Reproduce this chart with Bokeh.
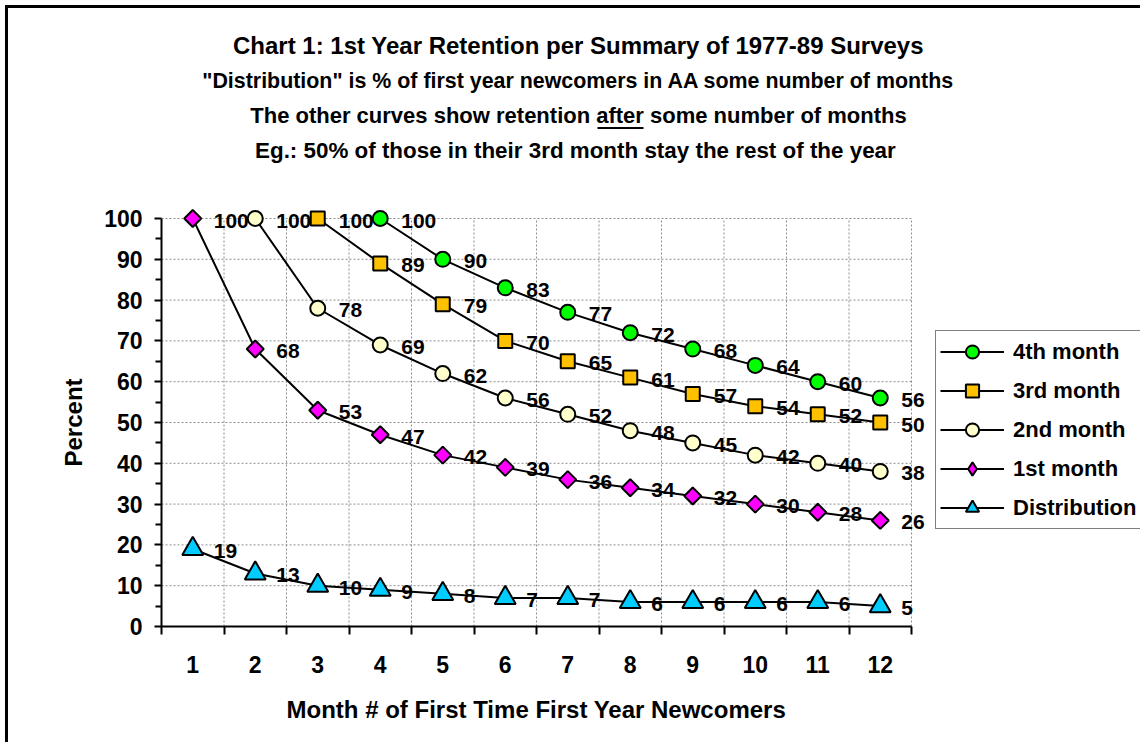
import numpy as np
from bokeh.plotting import figure
from bokeh.models import (FixedTicker, Label, Legend, LegendItem, ColumnDataSource,
                          Title, BoxAnnotation)
from bokeh.core.properties import value
from bokeh.embed import file_html
from bokeh.resources import INLINE

# ---------------- data ----------------
months = list(range(1, 13))
distribution = [19, 13, 10, 9, 8, 7, 7, 6, 6, 6, 6, 5]
month1 = [100, 68, 53, 47, 42, 39, 36, 34, 32, 30, 28, 26]
month2 = [100, 78, 69, 62, 56, 52, 48, 45, 42, 40, 38]
month3 = [100, 89, 79, 70, 65, 61, 57, 54, 52, 50]
month4 = [100, 90, 83, 77, 72, 68, 64, 60, 56]
y_ticks = list(range(0, 101, 10))
title_lines = [
    "Chart 1: 1st Year Retention per Summary of 1977-89 Surveys",
    "\"Distribution\" is % of first year newcomers in AA some number of months",
    "The other curves show retention after some number of months",
    "Eg.:  50% of those in their 3rd month stay the rest of the year",
]
x_title = "Month # of First Time First Year Newcomers"
y_title = "Percent"

FONT = "'Liberation Sans', Arial, sans-serif"

W, H = 1140, 742
# plot area in pixels: x 161..911, y 218..626
FL, FB = 161, 626
PX_PER_X = 62.5
PX_PER_Y = 4.08
x_lo = months[0] - 0.5
x_hi = months[-1] + 0.5
x_end = x_lo + (W - FL) / PX_PER_X
y_end = FB / PX_PER_Y

p = figure(width=W, height=H, output_backend="svg", toolbar_location=None,
           x_range=(x_lo, x_end), y_range=(0, y_end),
           min_border_left=FL, min_border_right=0, min_border_top=0,
           min_border_bottom=H - FB,
           background_fill_alpha=0, border_fill_alpha=0)
p.styles = {"box-shadow": "inset 5px 5px 0 0 white, inset 8px 8px 0 0 black"}
p.outline_line_color = None
p.xgrid.visible = False
p.ygrid.visible = False

# grid lines (dashed gray) limited to the plot area
GRID = dict(line_color="#8c8c8c", line_dash="2 2", line_width=1)
bx = [m + 0.5 for m in months]
p.segment(x0=bx, x1=bx, y0=[y_ticks[0]] * len(bx), y1=[y_ticks[-1]] * len(bx), **GRID)
hy = y_ticks[1:]
p.segment(x0=[x_lo] * len(hy), x1=[x_hi] * len(hy), y0=hy, y1=hy, **GRID)

# axes
p.xaxis.bounds = (x_lo, x_hi)
p.xaxis.ticker = FixedTicker(ticks=months, minor_ticks=[x_lo] + bx)
p.xaxis.major_tick_line_color = None
p.xaxis.major_tick_out = 0
p.xaxis.major_tick_in = 0
p.xaxis.minor_tick_out = 8
p.xaxis.minor_tick_in = 0
p.xaxis.minor_tick_line_color = "black"
p.xaxis.minor_tick_line_width = 2
p.xaxis.axis_line_width = 2
p.xaxis.axis_line_color = "black"
p.xaxis.major_label_standoff = 21

p.yaxis.bounds = (y_ticks[0], y_ticks[-1])
p.yaxis.ticker = FixedTicker(ticks=y_ticks, minor_ticks=[v + 5 for v in y_ticks[:-1]])
p.yaxis.major_tick_out = 7
p.yaxis.major_tick_in = 0
p.yaxis.minor_tick_out = 6
p.yaxis.minor_tick_in = 0
p.yaxis.major_tick_line_width = 2
p.yaxis.minor_tick_line_width = 2
p.yaxis.major_tick_line_color = "black"
p.yaxis.minor_tick_line_color = "black"
p.yaxis.axis_line_width = 2
p.yaxis.axis_line_color = "black"
p.yaxis.major_label_standoff = 12

for ax in (p.xaxis, p.yaxis):
    ax.major_label_text_font = FONT
    ax.major_label_text_font_style = "bold"
    ax.major_label_text_font_size = "23px"
    ax.major_label_text_color = "black"

# axis titles as side-panel titles, so they can be centred on the plot area
p.add_layout(Title(text=x_title, align="left", offset=125, standoff=36,
                   text_font=FONT, text_font_style="bold", text_font_size="24px",
                   text_color="black"), "below")
p.add_layout(Title(text=y_title, align="left", offset=160, standoff=30,
                   text_font=FONT, text_font_style="bold", text_font_size="24px",
                   text_color="black"), "left")

series = [
    ("4th month", months[3:], month4, "circle", "#00FF00", 15, 0.0),
    ("3rd month", months[2:], month3, "square", "#FFC000", 14, 0.0),
    ("2nd month", months[1:], month2, "circle", "#FFFFCC", 15, 0.0),
    ("1st month", months, month1, "square", "#FF00FF", 12, np.pi / 4),
    ("Distribution", months, distribution, "triangle", "#00CCFF", 21, 0.0),
]

items = {}
for name, xs, ys, marker, color, size, ang in reversed(series):
    src = ColumnDataSource(dict(x=xs, y=ys, lab=[str(v) for v in ys]))
    ln = p.line("x", "y", source=src, line_color="black", line_width=2)
    key = None
    if ang:
        # legend keys are drawn unrotated: a diamond marker (hidden under the
        # rotated squares) supplies the key glyph
        key = p.scatter("x", "y", source=src, marker="diamond", size=16,
                        fill_color=color, line_color="black", line_width=2)
    sc = p.scatter("x", "y", source=src, marker=marker, size=size, angle=ang,
                   fill_color=color, line_color="black", line_width=2)
    p.text("x", "y", text="lab", source=src, x_offset=21, y_offset=2,
           text_align="left", text_baseline="middle",
           text_font=value(FONT), text_font_style="bold", text_font_size="21px",
           text_color="black")
    items[name] = (ln, key if key is not None else sc)

legend = Legend(items=[LegendItem(label=s[0], renderers=list(items[s[0]])) for s in series],
                location=(774, 97), orientation="vertical",
                border_line_color="black", border_line_width=1,
                background_fill_color="white", background_fill_alpha=1,
                label_text_font=FONT, label_text_font_style="bold",
                label_text_font_size="22px", label_text_color="black",
                glyph_width=64, glyph_height=33, label_height=33,
                spacing=6, padding=4, margin=0, label_standoff=9)
p.add_layout(legend, "center")

# titles (screen units relative to the frame's bottom-left)
title_y = [FB - 45, FB - 80, FB - 115, FB - 150]
title_sz = ["24px", "21.4px", "22px", "22.4px"]
for txt, ty, sz in zip(title_lines, title_y, title_sz):
    p.add_layout(Label(x=578 - FL, y=ty, x_units="screen", y_units="screen", text=txt,
                       text_align="center", text_baseline="middle",
                       text_font=FONT, text_font_style="bold", text_font_size=sz,
                       text_color="black"))

# underline under "after" in the third title line
p.add_layout(BoxAnnotation(left=597 - FL, right=643 - FL, bottom=FB - 128.5, top=FB - 126.5,
                           left_units="screen", right_units="screen",
                           bottom_units="screen", top_units="screen",
                           fill_color="black", fill_alpha=1, line_color=None))

open("out.html", "w").write(file_html(p, INLINE))
